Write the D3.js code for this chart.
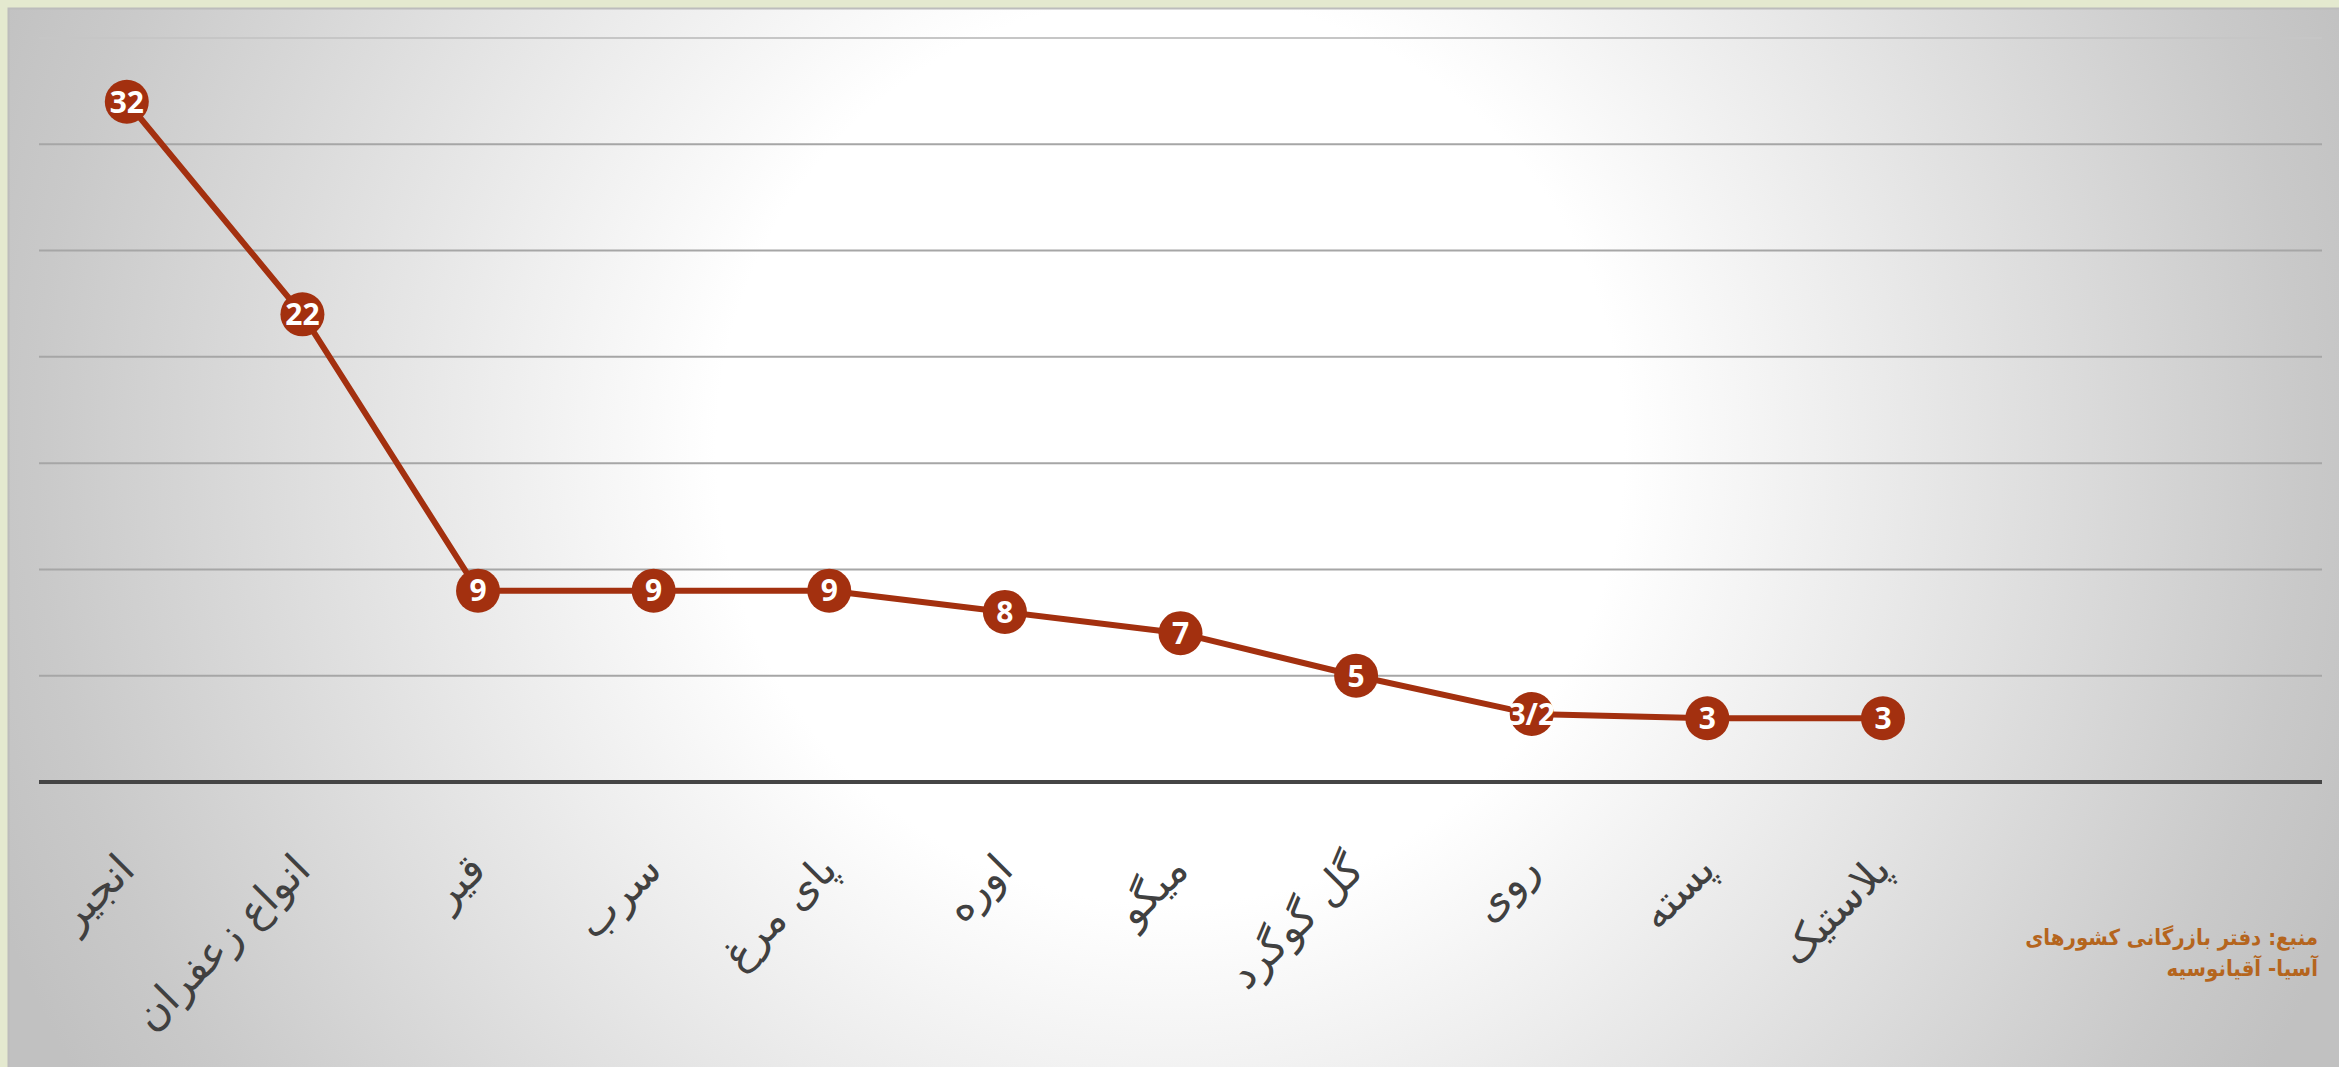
<!DOCTYPE html>
<html>
<head>
<meta charset="utf-8">
<script src="https://cdn.jsdelivr.net/npm/d3@7"></script>
<style>
  html, body { margin: 0; padding: 0; overflow: hidden; background: #e4e9cf; }
  svg { display: block; }
</style>
</head>
<body>
<svg width="2339" height="1067"></svg>
<script>
// chart data
let categories = ["انجیر", "انواع زعفران", "قیر", "سرب", "پای مرغ", "اوره", "میگو", "گل گوگرد", "روی", "پسته", "پلاستیک"];
let values = [32, 22, 9, 9, 9, 8, 7, 5, 3.2, 3, 3];
let valueLabels = ["32", "22", "9", "9", "9", "8", "7", "5", "3/2", "3", "3"];
let yTicks = [0, 5, 10, 15, 20, 25, 30, 35];
let sourceLines = ["منبع: دفتر بازرگانی کشورهای", "آسیا- آقیانوسیه"];

var svg = d3.select("svg"),
    width = +svg.attr("width"),
    height = +svg.attr("height");

var red = "#a3300f";

// slide background
var defs = svg.append("defs");
var grad = defs.append("radialGradient")
    .attr("id", "bg")
    .attr("gradientUnits", "userSpaceOnUse")
    .attr("cx", 1170).attr("cy", 450).attr("r", 1260);
grad.append("stop").attr("offset", 0).attr("stop-color", "#ffffff");
grad.append("stop").attr("offset", 0.36).attr("stop-color", "#ffffff");
grad.append("stop").attr("offset", 0.9).attr("stop-color", "#c9c9c9");
grad.append("stop").attr("offset", 1).attr("stop-color", "#c1c1c1");

svg.append("rect")
    .attr("width", width).attr("height", height)
    .attr("fill", "#e4e9cf");
svg.append("rect")
    .attr("x", 8).attr("y", 8)
    .attr("width", width - 8).attr("height", height - 8)
    .attr("fill", "url(#bg)");
svg.append("path")
    .attr("d", "M8.5," + height + "V8.5H" + width)
    .attr("fill", "none")
    .attr("stroke", "#bcbcbc")
    .attr("stroke-width", 2);

// plot area: 13 category slots, 11 used
var plotLeft = 39, plotRight = 2322, plotTop = 38, plotBottom = 782;
var slot = (plotRight - plotLeft) / 13;

let x = d3.scaleBand()
    .domain(categories)
    .range([plotLeft, plotLeft + slot * categories.length]);

let y = d3.scaleLinear()
    .domain([0, 35])
    .range([plotBottom, plotTop]);

// gridlines (top one is fainter)
svg.append("g")
    .attr("class", "grid")
    .selectAll("line")
    .data(yTicks.filter(d => d > 0))
    .enter().append("line")
    .attr("x1", plotLeft).attr("x2", plotRight)
    .attr("y1", d => y(d)).attr("y2", d => y(d))
    .attr("stroke", d => d === 35 ? "#c6c6c6" : "#a6a6a6")
    .attr("stroke-width", 2);

// category axis
svg.append("line")
    .attr("x1", plotLeft).attr("x2", plotRight)
    .attr("y1", y(0)).attr("y2", y(0))
    .attr("stroke", "#454545")
    .attr("stroke-width", 4);

svg.append("g")
    .attr("class", "xlabels")
    .selectAll("text")
    .data(categories)
    .enter().append("text")
    .attr("transform", d => "translate(" + (x(d) + x.bandwidth() / 2 + 10) + "," + 872 + ") rotate(-45)")
    .attr("direction", "rtl")
    .attr("text-anchor", "start")
    .attr("font-family", "DejaVu Sans, sans-serif")
    .attr("font-size", 42)
    .attr("fill", "#404040")
    .text(d => d);

// line
let line = d3.line()
    .x((d, i) => x(categories[i]) + x.bandwidth() / 2)
    .y(d => y(d));

svg.append("path")
    .datum(values)
    .attr("fill", "none")
    .attr("stroke", red)
    .attr("stroke-width", 6)
    .attr("stroke-linejoin", "round")
    .attr("d", line);

// markers
var marks = svg.append("g")
    .attr("class", "marks")
    .selectAll("g")
    .data(values)
    .enter().append("g")
    .attr("transform", (d, i) => "translate(" + (x(categories[i]) + x.bandwidth() / 2) + "," + y(d) + ")");

marks.append("circle")
    .attr("r", 22)
    .attr("fill", red);

marks.append("text")
    .attr("text-anchor", "middle")
    .attr("dy", "0.36em")
    .attr("font-family", "Open Sans, sans-serif")
    .attr("font-weight", "bold")
    .attr("font-size", 30)
    .attr("fill", "#ffffff")
    .text((d, i) => valueLabels[i]);

// source note
svg.append("g")
    .attr("class", "source")
    .selectAll("text")
    .data(sourceLines)
    .enter().append("text")
    .attr("x", 2318)
    .attr("y", (d, i) => 945 + i * 31)
    .attr("direction", "rtl")
    .attr("text-anchor", "start")
    .attr("font-family", "DejaVu Sans Condensed, DejaVu Sans, sans-serif")
    .attr("font-stretch", "condensed")
    .attr("font-weight", "bold")
    .attr("font-size", 22)
    .attr("fill", "#b5651d")
    .text(d => d);
</script>
</body>
</html>
